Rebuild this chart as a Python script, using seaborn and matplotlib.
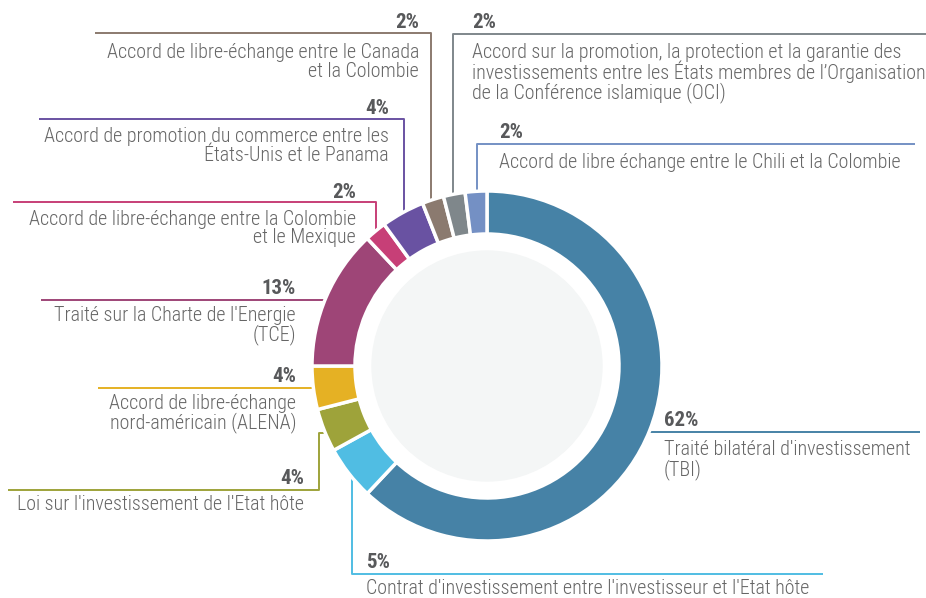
import matplotlib
matplotlib.use("Agg")
import matplotlib.pyplot as plt
from matplotlib.patches import Circle
import seaborn as sns

# data, clockwise from the top
categories = [
    "Traité bilatéral d'investissement\n(TBI)",
    "Contrat d'investissement entre l'investisseur et l'Etat hôte",
    "Loi sur l'investissement de l'Etat hôte",
    "Accord de libre-échange\nnord-américain (ALENA)",
    "Traité sur la Charte de l'Energie\n(TCE)",
    "Accord de libre-échange entre la Colombie\net le Mexique",
    "Accord de promotion du commerce entre les\nÉtats-Unis et le Panama",
    "Accord de libre-échange entre le Canada\net la Colombie",
    "Accord sur la promotion, la protection et la garantie des\ninvestissements entre les États membres de l’Organisation\nde la Conférence islamique (OCI)",
    "Accord de libre échange entre le Chili et la Colombie",
]
shares = [62, 5, 4, 4, 13, 2, 4, 2, 2, 2]
colors = ["#4682a6", "#50bde3", "#9ea33a", "#e5b124", "#9e4577",
          "#c73f77", "#6952a2", "#8b7a6f", "#7f878b", "#7490c4"]

W, H = 926, 598
CX, CY, R, RING = 487, 366, 175, 43

# label layout in pixels from the top-left: (pct x, pct y, text y, align, leader points)
layout = [
    (664, 420, 460, "left",  [(649, 432), (920, 432)]),
    (366, 563, 588, "left",  [(352, 477), (352, 574), (823, 574)]),
    (304, 478, 504, "right", [(325, 433), (319, 433), (319, 490), (8, 490)]),
    (296, 377, 413.5, "right", [(313, 388), (98, 388)]),
    (296, 288, 325.5, "right", [(325, 300), (41, 300)]),
    (356, 193, 228.5, "right", [(376, 231), (376, 202), (13, 202)]),
    (389, 109, 146, "right", [(404, 212), (404, 119), (39, 119)]),
    (419, 23, 62, "right",  [(431, 200), (431, 33), (95, 33)]),
    (472, 23, 73, "left",   [(453, 194), (453, 34), (926, 34)]),
    (499, 133, 162, "left", [(477, 192), (477, 144), (915, 144)]),
]

sns.set_theme(style="white")
plt.rcParams['font.family'] = ['Roboto Condensed', 'Barlow Semi Condensed', 'DejaVu Sans']

fig = plt.figure(figsize=(W / 100, H / 100), dpi=100)
ax = fig.add_axes([0, 0, 1, 1])

ax.pie(shares, colors=colors, startangle=90, counterclock=False,
       center=(CX, H - CY), radius=R,
       wedgeprops=dict(width=RING, edgecolor="white", linewidth=2.5, zorder=3))
ax.add_patch(Circle((CX, H - CY), 115, color="#f4f6f6", zorder=3))

for cat, val, col, (px, py, ty, ha, pts) in zip(categories, shares, colors, layout):
    xs = [p[0] for p in pts]
    ys = [H - p[1] for p in pts]
    ax.plot(xs, ys, color=col, lw=1.4, zorder=1, solid_capstyle="butt")
    ax.text(px, H - py, f"{val}%", ha=ha, va="center", fontsize=15,
            fontweight="bold", color="#58595b")
    ax.text(px, H - ty, cat, ha=ha, va="center", fontsize=14.4,
            fontweight="light", color="#666666", linespacing=0.95,
            multialignment=ha)

ax.set_xlim(0, W)
ax.set_ylim(0, H)
ax.set_aspect("equal")
ax.axis("off")

fig.savefig("out.png", dpi=100, facecolor="white")
